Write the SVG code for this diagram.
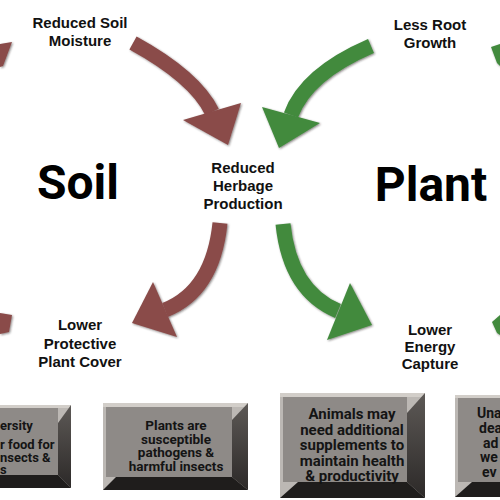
<svg xmlns="http://www.w3.org/2000/svg" width="500" height="500" viewBox="0 0 500 500">
<defs>
<style>
.lbl{font-family:"Liberation Sans",Arial,sans-serif;font-weight:bold;font-size:15px;fill:#111;text-anchor:middle}
.big{font-family:Roboto,"Liberation Sans",sans-serif;font-weight:bold;font-size:48px;fill:#000;text-anchor:middle}
.bt{font-family:Roboto,"Liberation Sans",sans-serif;font-weight:bold;font-size:13.5px;fill:#141414;text-anchor:middle}
.bt3{font-family:Roboto,"Liberation Sans",sans-serif;font-weight:bold;font-size:15px;fill:#141414;text-anchor:middle}
.bts{font-family:Roboto,"Liberation Sans",sans-serif;font-weight:bold;font-size:13px;fill:#141414}
.bt4{font-family:Roboto,"Liberation Sans",sans-serif;font-weight:bold;font-size:14px;fill:#141414}
.brown{fill:#8a4b49}
.green{fill:#428a3e}
.bs{fill:none;stroke:#8a4b49;stroke-width:15}
.gs{fill:none;stroke:#428a3e;stroke-width:15}
.outer{fill:#bcb8b4}
.topb{fill:#d2cec9}
.face{fill:#8e8a87}
.rightb{fill:url(#rg)}
.botb{fill:#1f1d1c}
</style>
<linearGradient id="rg" x1="0" y1="0" x2="0" y2="1">
<stop offset="0" stop-color="#5d5956"/>
<stop offset="1" stop-color="#2c2928"/>
</linearGradient>
<filter id="sh" x="-10%" y="-10%" width="130%" height="130%">
<feDropShadow dx="1" dy="1" stdDeviation="0.8" flood-color="#2a2020" flood-opacity="0.55"/>
</filter>
</defs>
<rect width="500" height="500" fill="#fff"/>

<g id="connectors" filter="url(#sh)">
<g id="arrow-soil-top">
<path class="bs" d="M133,43 Q195,77 212,112"/>
<polygon class="brown" points="183,120 241,103 228,145"/>
</g>
<g id="arrow-plant-top">
<path class="gs" d="M371,46 Q306,74 291,115"/>
<polygon class="green" points="262,107 320,123 279,148"/>
</g>
<g id="arrow-soil-bottom">
<path class="bs" d="M220,223 Q213,291 165,310"/>
<polygon class="brown" points="153,282 177,337 132,323"/>
</g>
<g id="arrow-plant-bottom">
<path class="gs" d="M283,224 Q290,291 338,311"/>
<polygon class="green" points="350,283 327,340 372,325"/>
</g>
<polygon class="brown" points="0,44 12,42 3,66 0,67"/>
<polygon class="brown" points="0,313 12,315 9,332 0,334"/>
<polygon class="green" points="491,47 500,44 500,66 497,63"/>
<polygon class="green" points="492,322 500,315 500,335 497,333"/>
</g>

<g id="soil-title"><text class="big" x="78" y="199">Soil</text></g>
<g id="plant-title"><text class="big" x="431" y="201">Plant</text></g>

<g id="reduced-soil-moisture">
<text class="lbl" x="80" y="28">Reduced Soil</text>
<text class="lbl" x="80" y="46">Moisture</text>
</g>
<g id="less-root-growth">
<text class="lbl" x="430" y="30">Less Root</text>
<text class="lbl" x="430" y="48">Growth</text>
</g>
<g id="reduced-herbage-production">
<text class="lbl" x="243" y="173">Reduced</text>
<text class="lbl" x="243" y="191">Herbage</text>
<text class="lbl" x="243" y="209">Production</text>
</g>
<g id="lower-protective-plant-cover">
<text class="lbl" x="80" y="330">Lower</text>
<text class="lbl" x="80" y="349">Protective</text>
<text class="lbl" x="80" y="367">Plant Cover</text>
</g>
<g id="lower-energy-capture">
<text class="lbl" x="430" y="335">Lower</text>
<text class="lbl" x="430" y="352">Energy</text>
<text class="lbl" x="430" y="369">Capture</text>
</g>

<g id="box-diversity">
<rect class="outer" x="-10" y="405" width="81" height="83"/>
<rect class="topb" x="-10" y="405" width="81" height="3"/>
<rect class="face" x="-10" y="408" width="68" height="67"/>
<polygon class="rightb" points="71,405 71,488 58,475 58,423"/>
<polygon class="botb" points="-10,488 71,488 58,475 -10,475"/>
<text class="bts" x="0" y="430">ersity</text>
<text class="bts" x="0" y="449">r food for</text>
<text class="bts" x="0" y="462">nsects &amp;</text>
<text class="bts" x="0" y="474">s</text>
</g>

<g id="box-pathogens">
<rect class="outer" x="103" y="403" width="145" height="87"/>
<rect class="topb" x="103" y="403" width="145" height="4"/>
<rect class="face" x="106" y="407" width="126" height="70"/>
<polygon class="rightb" points="248,403 248,490 232,477 232,420"/>
<polygon class="botb" points="103,490 248,490 232,477 116,477"/>
<text class="bt" x="176" y="430">Plants are</text>
<text class="bt" x="176" y="443.5">susceptible</text>
<text class="bt" x="176" y="457">pathogens &amp;</text>
<text class="bt" x="176" y="470.5">harmful insects</text>
</g>

<g id="box-supplements">
<rect class="outer" x="280" y="393" width="145" height="105"/>
<rect class="topb" x="280" y="393" width="145" height="4"/>
<rect class="face" x="283" y="397" width="124" height="85"/>
<polygon class="rightb" points="425,393 425,498 407,482 407,413"/>
<polygon class="botb" points="280,498 425,498 407,482 298,482"/>
<text class="bt3" x="352" y="419">Animals may</text>
<text class="bt3" x="352" y="434.5">need additional</text>
<text class="bt3" x="352" y="450">supplements to</text>
<text class="bt3" x="352" y="465.5">maintain health</text>
<text class="bt3" x="352" y="481">&amp; productivity</text>
</g>

<g id="box-unable">
<rect class="outer" x="455" y="395" width="55" height="102"/>
<rect class="topb" x="455" y="395" width="55" height="3"/>
<rect class="face" x="458" y="398" width="52" height="84"/>
<polygon class="botb" points="455,497 510,497 510,482 472,482"/>
<text class="bt4" x="477" y="418">Una</text>
<text class="bt4" x="479" y="433">dea</text>
<text class="bt4" x="483" y="448">ad</text>
<text class="bt4" x="480" y="462">we</text>
<text class="bt4" x="482" y="477">ev</text>
</g>
</svg>
